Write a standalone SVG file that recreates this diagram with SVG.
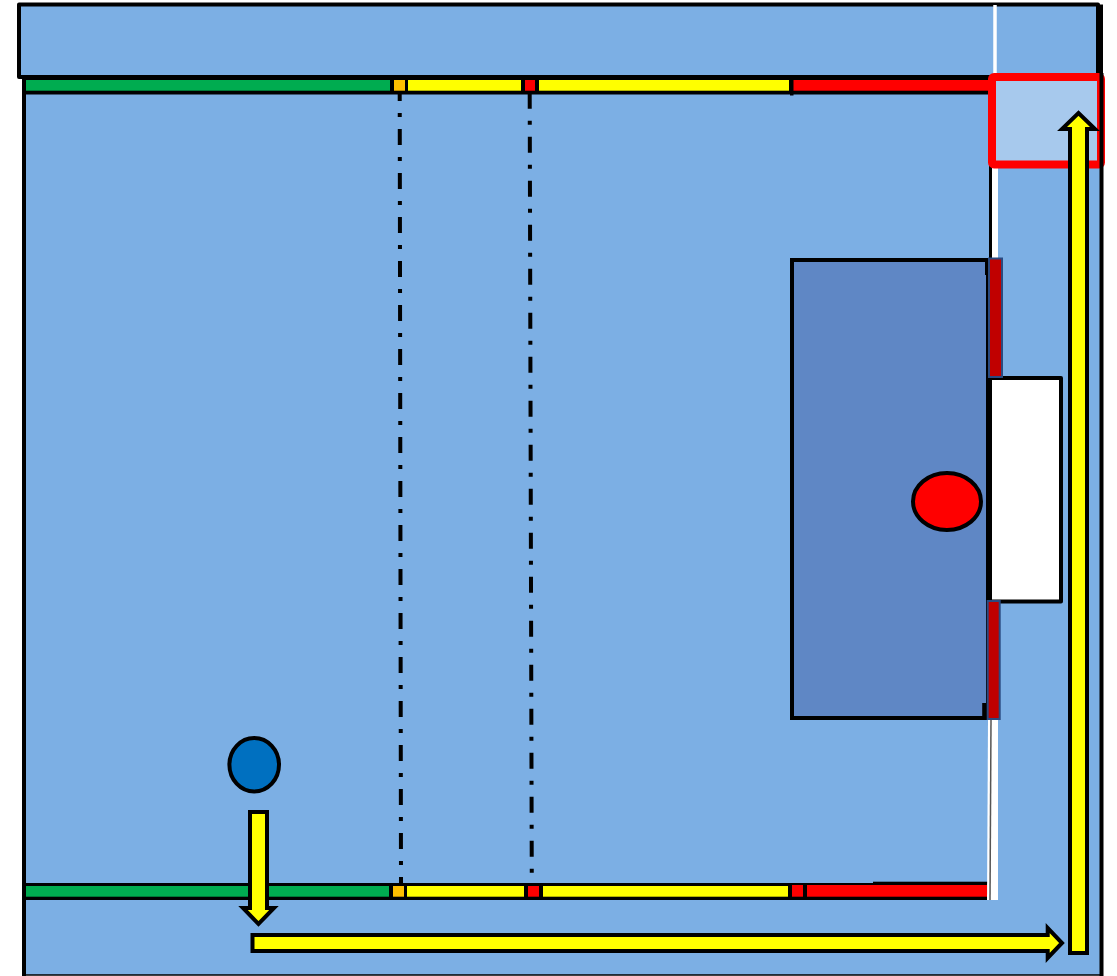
<svg xmlns="http://www.w3.org/2000/svg" width="1117" height="976" viewBox="0 0 1117 976">
<style>
.k{stroke:#000;stroke-width:4;stroke-linejoin:round}
.b{fill:#7cafe4}
.ln{fill:none;stroke:#000;stroke-width:4}
.ar{fill:#ff0;stroke:#000;stroke-width:4;stroke-linejoin:miter}
.dd{fill:none;stroke:#000;stroke-width:4;stroke-dasharray:16 12 4 12}
.g{fill:#00ac50}.y{fill:#ff0}.r{fill:#f00}.o{fill:#ffc000}
.pad{fill:#c00000;stroke:#2a4a80;stroke-width:2}
</style>
<rect width="1117" height="976" fill="#fff"/>
<g id="field">
<rect class="b" x="24" y="76" width="1077.500" height="899"/>
<path d="M24 76V976" class="ln"/>
<path d="M22 975H1103" stroke="#000" stroke-width="1.500" fill="none"/>
<rect id="top-band" class="b k" x="19" y="4.500" width="1079" height="72.500"/>
<path d="M1100 4.500V78" stroke="#000" stroke-width="6" fill="none"/>
</g>
<g id="connectors">
<path class="dd" d="M399.700 85L401 885"/>
<path class="dd" d="M529.700 92.700L531.800 885"/>
</g>
<g id="top-strip">
<rect x="24" y="76" width="968" height="18.500" fill="#000"/>
<rect x="790" y="80" width="3.500" height="15.500" fill="#000"/>
<rect class="g" x="26" y="80" width="364" height="10.700"/>
<rect class="o" x="394" y="80" width="11" height="10.700"/>
<rect class="y" x="408" y="80" width="113" height="10.700"/>
<rect class="r" x="525" y="80" width="10" height="10.700"/>
<rect class="y" x="539" y="80" width="250" height="10.700"/>
<rect class="r" x="793.500" y="80" width="197" height="10.700"/>
</g>
<g id="bottom-strip">
<rect x="24" y="883" width="964" height="17" fill="#000"/>
<rect x="873" y="881.700" width="115" height="4" fill="#000"/>
<rect x="525" y="883" width="17" height="17" fill="#000"/>
<rect class="g" x="26" y="886" width="363" height="10.700"/>
<rect class="o" x="393" y="886" width="11" height="10.700"/>
<rect class="y" x="407" y="886" width="117" height="10.700"/>
<rect class="r" x="528" y="886" width="11" height="10.700"/>
<rect class="y" x="543" y="886" width="245" height="10.700"/>
<rect class="r" x="792" y="885" width="11" height="11.700"/>
<rect class="r" x="807" y="885" width="180" height="11.700"/>
</g>
<g id="goal-line">
<path d="M995 5V74" stroke="#fff" stroke-width="3.500" fill="none"/>
<path d="M995 165V260" stroke="#fff" stroke-width="6" fill="none"/>
<path d="M990.500 165V260" stroke="#000" stroke-width="3" fill="none"/>
<path d="M988 720L987 900H998V720Z" fill="#fff"/>
<path d="M991 720L990 900" stroke="#555" stroke-width="1.500" fill="none"/>
</g>
<g id="penalty-area">
<rect x="792" y="260" width="196" height="458" fill="#5f87c5" stroke="#000" stroke-width="4"/>
<path d="M984.200 718V703" class="ln"/>
<path d="M987 258V275" class="ln"/>
</g>
<g id="goal"><rect x="990" y="378" width="71" height="223.500" fill="#fff" class="k"/><path d="M989.500 378V602" stroke="#000" stroke-width="5"/></g>
<g id="pad-top"><rect class="pad" x="989" y="258.500" width="13" height="118.500"/></g>
<g id="pad-bottom"><rect class="pad" x="987.700" y="601" width="12" height="118"/></g>
<g id="red-player"><ellipse cx="947" cy="501.500" rx="34" ry="28.500" fill="#f00" stroke="#000" stroke-width="4"/></g>
<g id="blue-player"><ellipse cx="254.200" cy="764.700" rx="24.800" ry="26.700" fill="#0070c0" stroke="#000" stroke-width="4"/></g>
<g id="corner-box"><rect x="992" y="77" width="109" height="87.500" rx="2" fill="#a7c9ed" stroke="#f00" stroke-width="8"/>
<path d="M1101.500 73V976" class="ln"/></g>
<g id="arrow-down"><path class="ar" d="M250 812H267V908H274L258.500 924L243 908H250Z"/></g>
<g id="arrow-right"><path class="ar" d="M252.500 935H1047.700V928L1062 943L1047.700 958V951H252.500Z"/></g>
<g id="arrow-up"><path class="ar" d="M1070 953V129H1062L1078.500 113L1095 129H1087V953Z"/></g>
</svg>
